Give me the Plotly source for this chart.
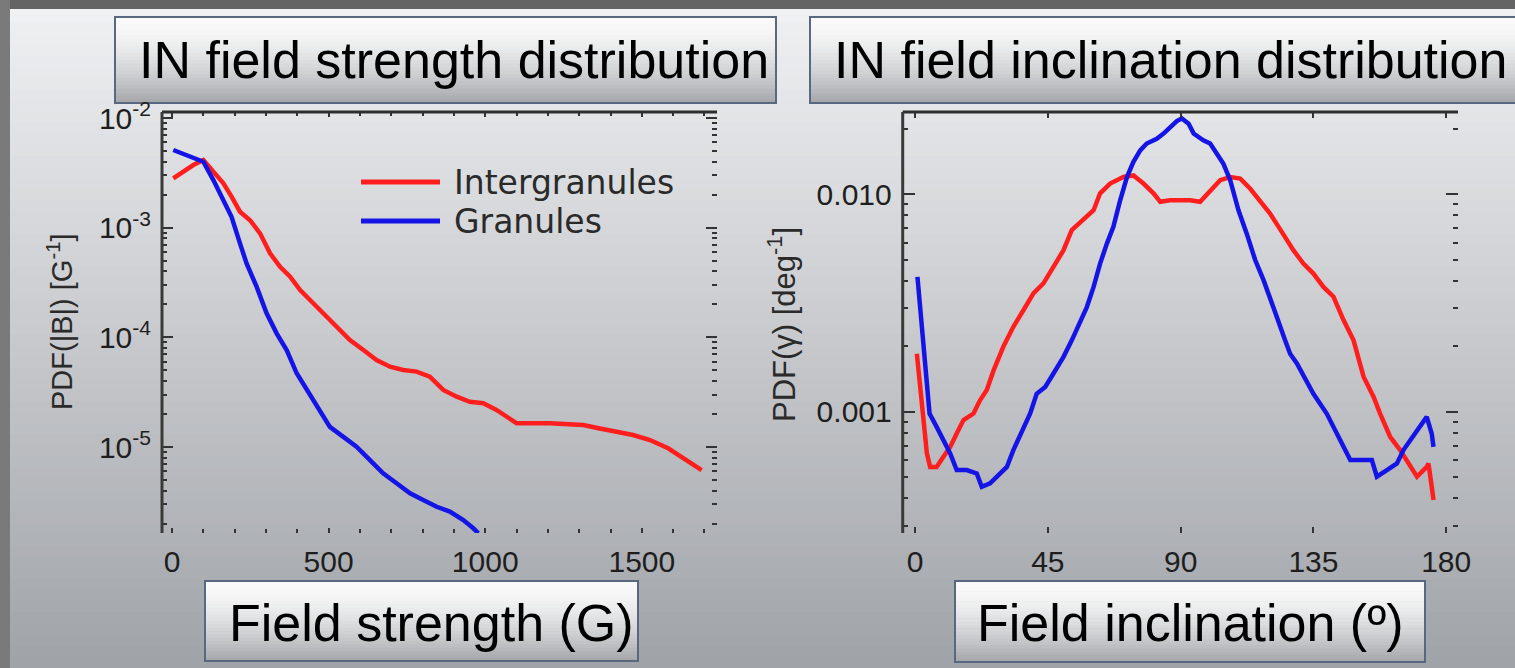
import plotly.graph_objects as go

# ---------------- data ----------------
# Left panel: field strength PDF
B_gran = [4, 47, 100, 132, 164, 190, 217, 238, 270, 302, 334, 366, 398, 430, 462, 483, 504,
          547, 589, 632, 674, 717, 760, 802, 845, 887, 930, 962, 978]
pdf_B_gran = [5.11e-3, 4.60e-3, 4.00e-3, 2.72e-3, 1.79e-3, 1.26e-3, 7.19e-4, 4.73e-4, 2.90e-4,
              1.66e-4, 1.09e-4, 7.67e-5, 4.71e-5, 3.32e-5, 2.34e-5, 1.89e-5, 1.53e-5, 1.24e-5,
              1.01e-5, 7.62e-6, 5.77e-6, 4.68e-6, 3.79e-6, 3.30e-6, 2.86e-6, 2.58e-6, 2.16e-6,
              1.82e-6, 1.64e-6]

B_inter = [4, 36, 68, 100, 132, 164, 190, 217, 249, 281, 313, 345, 377, 409, 451, 483, 526, 568,
           611, 653, 696, 738, 781, 823, 866, 909, 951, 994, 1036, 1068, 1100, 1206, 1313, 1366,
           1419, 1472, 1526, 1584, 1691]
pdf_B_inter = [2.82e-3, 3.24e-3, 3.73e-3, 4.14e-3, 3.24e-3, 2.54e-3, 1.92e-3, 1.40e-3, 1.17e-3,
               8.89e-4, 5.84e-4, 4.41e-4, 3.58e-4, 2.70e-4, 2.05e-4, 1.66e-4, 1.25e-4, 9.46e-5,
               7.67e-5, 6.22e-5, 5.41e-5, 5.05e-5, 4.88e-5, 4.39e-5, 3.32e-5, 2.88e-5, 2.59e-5,
               2.51e-5, 2.18e-5, 1.89e-5, 1.65e-5, 1.65e-5, 1.59e-5, 1.48e-5, 1.38e-5, 1.29e-5,
               1.16e-5, 9.75e-6, 6.18e-6]

# Right panel: inclination PDF
inc_gran = [0.8, 1.7, 2.8, 4.0, 4.9, 7.3, 9.6, 11.9, 14.1, 17.5, 20.9, 22.6, 25.4, 27.7, 31.1,
            33.3, 36.7, 39.0, 41.2, 44.1, 46.9, 50.3, 53.1, 55.9, 58.2, 60.5, 62.7, 65.0, 67.2,
            69.5, 71.8, 74.0, 76.3, 78.5, 81.9, 84.2, 86.4, 88.7, 90.4, 92.7, 94.4, 97.7, 100.0,
            102.3, 104.5, 106.8, 109.6, 112.4, 115.3, 118.1, 120.3, 122.6, 125.4, 127.1, 129.4,
            135.0, 139.5, 142.9, 146.3, 147.5, 154.8, 156.5, 159.9, 163.3, 165.5, 170.1, 173.4,
            175.1, 175.7]
pdf_inc_gran = [4.17e-3, 3.03e-3, 2.13e-3, 1.35e-3, 9.82e-4, 8.53e-4, 7.41e-4, 6.44e-4, 5.40e-4,
                5.40e-4, 5.21e-4, 4.52e-4, 4.69e-4, 5.03e-4, 5.58e-4, 6.67e-4, 8.53e-4, 9.82e-4,
                1.21e-3, 1.30e-3, 1.50e-3, 1.79e-3, 2.13e-3, 2.55e-3, 3.03e-3, 3.75e-3, 4.80e-3,
                5.93e-3, 7.08e-3, 9.38e-3, 1.20e-2, 1.41e-2, 1.59e-2, 1.71e-2, 1.80e-2, 1.90e-2,
                2.04e-2, 2.17e-2, 2.23e-2, 2.11e-2, 1.90e-2, 1.77e-2, 1.71e-2, 1.54e-2, 1.38e-2,
                1.16e-2, 8.44e-3, 6.59e-3, 4.97e-3, 4.03e-3, 3.38e-3, 2.73e-3, 2.13e-3, 1.85e-3,
                1.67e-3, 1.21e-3, 9.82e-4, 7.94e-4, 6.44e-4, 6.00e-4, 6.00e-4, 5.03e-4, 5.40e-4,
                5.79e-4, 6.67e-4, 8.24e-4, 9.48e-4, 7.94e-4, 6.90e-4]

inc_inter = [0.6, 1.7, 2.8, 4.0, 5.1, 7.3, 9.6, 11.9, 14.1, 16.4, 19.8, 22.0, 24.3, 26.6, 29.9,
             33.3, 36.7, 40.1, 43.5, 46.9, 50.3, 53.1, 57.1, 60.5, 62.7, 66.1, 70.6, 74.0, 77.4,
             80.8, 83.1, 86.4, 89.8, 93.2, 96.6, 100.0, 103.4, 106.8, 110.2, 113.6, 116.9, 120.3,
             123.2, 126.0, 128.2, 131.6, 135.0, 138.4, 141.8, 145.2, 148.6, 152.0, 155.4, 157.6,
             161.0, 164.4, 167.8, 170.1, 173.4, 174.0, 175.1, 175.7]
pdf_inc_inter = [1.85e-3, 1.35e-3, 9.48e-4, 6.44e-4, 5.58e-4, 5.58e-4, 6.21e-4, 6.90e-4, 7.94e-4,
                 9.16e-4, 9.82e-4, 1.13e-3, 1.26e-3, 1.55e-3, 1.99e-3, 2.46e-3, 2.93e-3, 3.50e-3,
                 3.89e-3, 4.64e-3, 5.53e-3, 6.84e-3, 7.60e-3, 8.44e-3, 1.01e-2, 1.12e-2, 1.20e-2,
                 1.22e-2, 1.12e-2, 1.01e-2, 9.23e-3, 9.38e-3, 9.38e-3, 9.38e-3, 9.23e-3, 1.04e-2,
                 1.16e-2, 1.20e-2, 1.18e-2, 1.06e-2, 9.38e-3, 8.15e-3, 7.08e-3, 6.15e-3, 5.53e-3,
                 4.80e-3, 4.32e-3, 3.75e-3, 3.38e-3, 2.64e-3, 2.13e-3, 1.45e-3, 1.17e-3, 9.82e-4,
                 7.68e-4, 6.67e-4, 5.58e-4, 5.03e-4, 5.58e-4, 5.79e-4, 4.52e-4, 3.93e-4]

# tick labels
B_tickvals = [0, 500, 1000, 1500]
B_ticktext = ["0", "500", "1000", "1500"]
pdfB_tickvals = [1e-2, 1e-3, 1e-4, 1e-5]
pdfB_ticktext = ["10<sup>-2</sup>", "10<sup>-3</sup>", "10<sup>-4</sup>", "10<sup>-5</sup>"]
inc_tickvals = [0, 45, 90, 135, 180]
inc_ticktext = ["0", "45", "90", "135", "180"]
pdfI_tickvals = [1e-3, 1e-2]
pdfI_ticktext = ["0.001", "0.010"]

series_names = ["Intergranules", "Granules"]
titles = ["IN field strength distribution", "IN field inclination distribution"]
xlabels = ["Field strength (G)", "Field inclination (º)"]
ylabels = ["PDF(|B|) [G<sup>-1</sup>]", "PDF(γ) [deg<sup>-1</sup>]"]

# ---------------- styling ----------------
W, H = 1515, 668
RED = "#ff1e1e"
BLUE = "#1414e6"
FONT = "Liberation Sans, Arial, sans-serif"


def px(x):
    return x / W


def py(y):
    return 1 - y / H


def lerp(c1, c2, t):
    return "rgb(%d,%d,%d)" % tuple(round(a + (b - a) * t) for a, b in zip(c1, c2))


shapes = []
# slide background gradient
top_c, bot_c = (240, 241, 243), (160, 163, 168)
n = 60
for i in range(n):
    y0 = i * H / n
    y1 = (i + 1) * H / n + 1
    shapes.append(dict(type="rect", xref="paper", yref="paper", x0=0, x1=1,
                       y0=py(y1), y1=py(y0), line=dict(width=0),
                       fillcolor=lerp(top_c, bot_c, i / (n - 1)), layer="below"))
# dark frame (top and left)
shapes.append(dict(type="rect", xref="paper", yref="paper", x0=0, x1=1, y0=py(9), y1=1,
                   line=dict(width=0), fillcolor="#646464", layer="below"))
shapes.append(dict(type="rect", xref="paper", yref="paper", x0=0, x1=px(10), y0=0, y1=1,
                   line=dict(width=0), fillcolor="#7a7a7a", layer="below"))


def gradient_box(x0, x1, y0, y1):
    m = 24
    c_top, c_bot = (250, 250, 250), (166, 168, 172)
    for i in range(m):
        a = y0 + (y1 - y0) * i / m
        b = y0 + (y1 - y0) * (i + 1) / m + 0.6
        t = (i / (m - 1)) ** 1.6
        shapes.append(dict(type="rect", xref="paper", yref="paper", x0=px(x0), x1=px(x1),
                           y0=py(b), y1=py(a), line=dict(width=0),
                           fillcolor=lerp(c_top, c_bot, t), layer="below"))
    shapes.append(dict(type="rect", xref="paper", yref="paper", x0=px(x0), x1=px(x1),
                       y0=py(y1), y1=py(y0), line=dict(width=2, color="#5a6780"),
                       fillcolor="rgba(0,0,0,0)", layer="below"))


gradient_box(115, 776, 17, 103)
gradient_box(810, 1525, 17, 103)
gradient_box(205, 638, 581, 661)
gradient_box(955, 1425, 581, 662)

# axis lines (top and left only, as in the reference)
for xr, yr in (("x domain", "y domain"), ("x2 domain", "y2 domain")):
    shapes.append(dict(type="line", xref=xr, yref=yr, x0=0, x1=1, y0=1, y1=1,
                       line=dict(color="#2e2e2e", width=3)))
    shapes.append(dict(type="line", xref=xr, yref=yr, x0=0, x1=0, y0=0, y1=1,
                       line=dict(color="#3a3a3a", width=3)))

# legend swatches
shapes.append(dict(type="line", xref="paper", yref="paper", x0=px(361), x1=px(440),
                   y0=py(182), y1=py(182), line=dict(color=RED, width=5)))
shapes.append(dict(type="line", xref="paper", yref="paper", x0=px(361), x1=px(440),
                   y0=py(221), y1=py(221), line=dict(color=BLUE, width=5)))

fig = go.Figure()
fig.add_trace(go.Scatter(x=B_inter, y=pdf_B_inter, mode="lines", name=series_names[0],
                         line=dict(color=RED, width=4.5), xaxis="x", yaxis="y", showlegend=False))
fig.add_trace(go.Scatter(x=B_gran, y=pdf_B_gran, mode="lines", name=series_names[1],
                         line=dict(color=BLUE, width=4.5), xaxis="x", yaxis="y", showlegend=False))
fig.add_trace(go.Scatter(x=inc_inter, y=pdf_inc_inter, mode="lines", name=series_names[0],
                         line=dict(color=RED, width=4.5), xaxis="x2", yaxis="y2", showlegend=False))
fig.add_trace(go.Scatter(x=inc_gran, y=pdf_inc_gran, mode="lines", name=series_names[1],
                         line=dict(color=BLUE, width=4.5), xaxis="x2", yaxis="y2", showlegend=False))

tickfont = dict(family=FONT, size=30, color="#1e1e1e")
common = dict(showgrid=False, zeroline=False, showline=True, linecolor="rgba(0,0,0,0)",
              mirror="ticks", ticks="inside", tickcolor="#333333", tickwidth=2, tickfont=tickfont,
              automargin=False)

annotations = [
    dict(text=titles[0], x=px(137), y=py(60), xanchor="left", yanchor="middle"),
    dict(text=titles[1], x=px(832), y=py(60), xanchor="left", yanchor="middle"),
    dict(text=xlabels[0], x=px(227), y=py(623), xanchor="left", yanchor="middle"),
    dict(text=xlabels[1], x=px(975), y=py(623), xanchor="left", yanchor="middle"),
]
for a in annotations:
    a.update(xref="paper", yref="paper", showarrow=False,
             font=dict(family=FONT, size=52, color="black"))
annotations += [
    dict(text=ylabels[0], x=px(60), y=py(322), textangle=-90, xref="paper", yref="paper",
         showarrow=False, xanchor="center", yanchor="middle",
         font=dict(family=FONT, size=29, color="#2a2a2a")),
    dict(text=ylabels[1], x=px(782), y=py(325), textangle=-90, xref="paper", yref="paper",
         showarrow=False, xanchor="center", yanchor="middle",
         font=dict(family=FONT, size=31, color="#2a2a2a")),
    dict(text=series_names[0], x=px(452), y=py(182), xanchor="left", yanchor="middle",
         xref="paper", yref="paper", showarrow=False,
         font=dict(family="DejaVu Sans", size=33, color="#2a2a2a")),
    dict(text=series_names[1], x=px(452), y=py(221), xanchor="left", yanchor="middle",
         xref="paper", yref="paper", showarrow=False,
         font=dict(family="DejaVu Sans", size=33, color="#2a2a2a")),
]

fig.update_layout(
    width=W, height=H, autosize=False,
    margin=dict(l=0, r=0, t=0, b=0, pad=0, autoexpand=False),
    paper_bgcolor="#c8cacd", plot_bgcolor="rgba(0,0,0,0)",
    showlegend=False, shapes=shapes, annotations=annotations,
    xaxis=dict(domain=[px(162), px(717)], range=[-32, 1740], anchor="y",
               tickmode="array", tickvals=B_tickvals, ticktext=B_ticktext, ticklen=5,
               ticklabelstandoff=2,
               minor=dict(dtick=100, tick0=0, ticks="inside", ticklen=4, tickcolor="#333333",
                          tickwidth=2, showgrid=False), **common),
    yaxis=dict(domain=[py(533), py(112)], type="log", range=[-5.783, -1.945], anchor="x",
               tickmode="array", tickvals=pdfB_tickvals, ticktext=pdfB_ticktext, ticklen=11,
               ticklabelstandoff=4,
               minor=dict(dtick="D1", ticks="inside", ticklen=5, tickcolor="#333333",
                          tickwidth=2, showgrid=False), **common),
    xaxis2=dict(domain=[px(902.7), px(1458)], range=[-4.2, 184], anchor="y2",
                tickmode="array", tickvals=inc_tickvals, ticktext=inc_ticktext, ticklen=6,
                ticklabelstandoff=2, **common),
    yaxis2=dict(domain=[py(533), py(112)], type="log", range=[-3.557, -1.622], anchor="x2",
                tickmode="array", tickvals=pdfI_tickvals, ticktext=pdfI_ticktext, ticklen=12,
                ticklabelstandoff=4,
                minor=dict(dtick="D1", ticks="inside", ticklen=5, tickcolor="#333333",
                           tickwidth=2, showgrid=False), **common),
)

fig.write_html("out.html", config={"displayModeBar": False},
               post_script="document.body.style.margin='0';document.body.style.overflow='hidden';")
